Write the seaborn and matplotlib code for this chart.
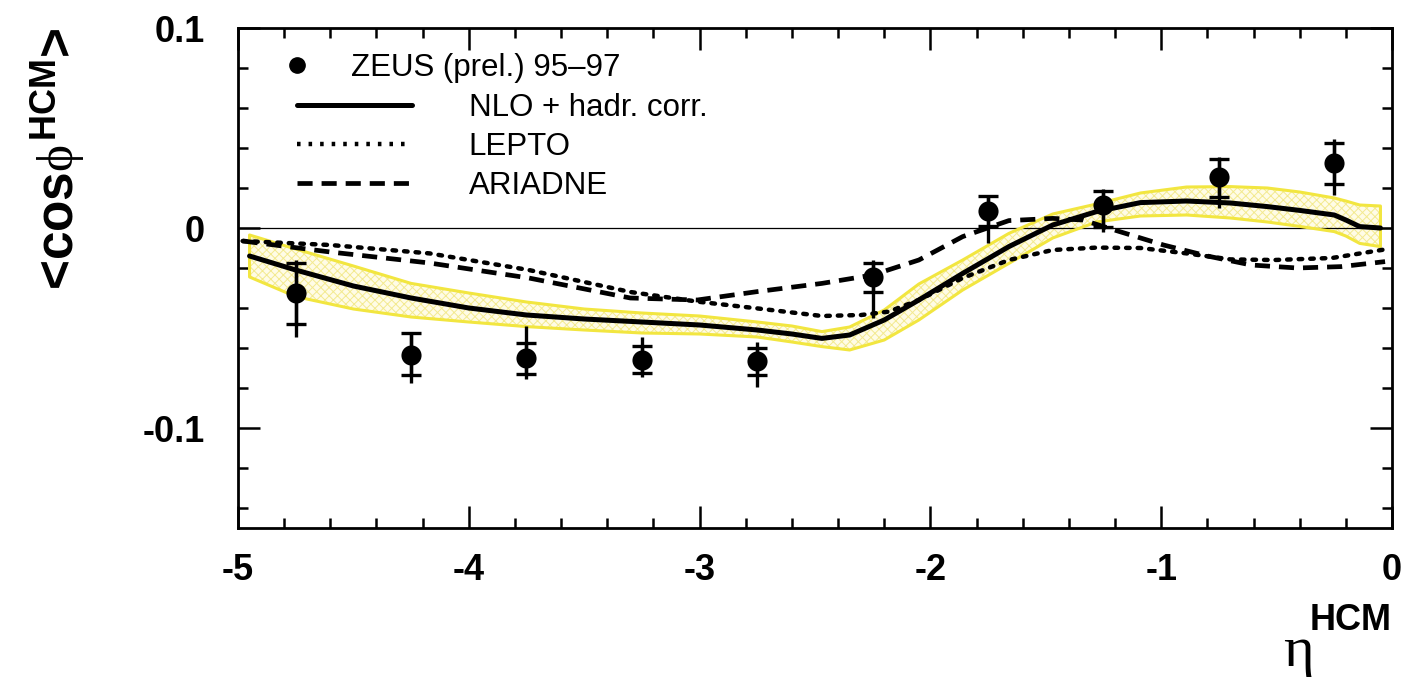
import matplotlib
matplotlib.use("Agg")
import matplotlib.pyplot as plt
from matplotlib.lines import Line2D
import numpy as np
import pandas as pd
import seaborn as sns

# ZEUS (prel.) 95-97 measurement
eta_pts = [-4.75, -4.25, -3.75, -3.25, -2.75, -2.25, -1.75, -1.25, -0.75, -0.25]
cos_pts = [-0.0325, -0.0635, -0.065, -0.066, -0.0665, -0.0245, 0.0085, 0.0115, 0.0255, 0.0325]
stat_up = [0.015, 0.011, 0.0075, 0.007, 0.0065, 0.007, 0.0075, 0.007, 0.009, 0.010]
stat_dn = [0.0155, 0.010, 0.008, 0.0065, 0.007, 0.0075, 0.0075, 0.011, 0.010, 0.0105]
tot_up = [0.0165, 0.011, 0.016, 0.0115, 0.0095, 0.0085, 0.0075, 0.008, 0.010, 0.012]
tot_dn = [0.022, 0.014, 0.0105, 0.0085, 0.013, 0.0205, 0.016, 0.0135, 0.0155, 0.016]

# NLO + hadronisation corrections, with its uncertainty band
eta_nlo = [-4.95, -4.75, -4.5, -4.25, -4.0, -3.75, -3.5, -3.25, -3.0, -2.75, -2.6, -2.47,
           -2.35, -2.2, -2.05, -1.86, -1.66, -1.47, -1.28, -1.09, -0.89, -0.70, -0.54,
           -0.40, -0.25, -0.20, -0.14, -0.05]
cos_nlo = [-0.014, -0.021, -0.029, -0.035, -0.040, -0.0435, -0.0455, -0.047, -0.0485, -0.051,
           -0.053, -0.0552, -0.0535, -0.046, -0.036, -0.0227, -0.0093, 0.0015, 0.0082, 0.0127,
           0.0135, 0.0125, 0.0107, 0.0088, 0.0065, 0.004, 0.0007, 0.0]
nlo_hi = [-0.0035, -0.0105, -0.019, -0.0277, -0.0325, -0.037, -0.0405, -0.0425, -0.044, -0.047,
          -0.049, -0.0518, -0.0495, -0.041, -0.028, -0.016, -0.0027, 0.007, 0.012, 0.0175,
          0.0205, 0.0207, 0.020, 0.018, 0.015, 0.0135, 0.0115, 0.011]
nlo_lo = [-0.0245, -0.0343, -0.0405, -0.0445, -0.047, -0.0493, -0.051, -0.0525, -0.053, -0.0545,
          -0.057, -0.0593, -0.061, -0.056, -0.046, -0.031, -0.0177, -0.005, 0.003, 0.006,
          0.0065, 0.005, 0.003, 0.0008, -0.0018, -0.004, -0.0077, -0.0093]

# LEPTO prediction
eta_lepto = [-4.98, -4.6, -4.17, -3.74, -3.30, -3.01, -2.75, -2.47, -2.30, -2.18, -2.05,
             -1.86, -1.66, -1.47, -1.28, -1.09, -0.89, -0.70, -0.51, -0.26, -0.03]
cos_lepto = [-0.0065, -0.0085, -0.0127, -0.021, -0.032, -0.0368, -0.0402, -0.044, -0.0435,
             -0.0418, -0.036, -0.025, -0.016, -0.011, -0.0098, -0.010, -0.0127, -0.0157,
             -0.016, -0.015, -0.0107]

# ARIADNE prediction
eta_ariadne = [-4.98, -4.6, -4.17, -3.74, -3.30, -3.01, -2.75, -2.47, -2.25, -2.05, -1.86,
               -1.66, -1.47, -1.34, -1.18, -0.99, -0.80, -0.61, -0.41, -0.22, -0.03]
cos_ariadne = [-0.0065, -0.012, -0.0175, -0.025, -0.035, -0.036, -0.0318, -0.0277, -0.0235,
               -0.016, -0.0043, 0.0037, 0.0048, 0.004, -0.0018, -0.0085, -0.014, -0.0185,
               -0.020, -0.0193, -0.0168]

x_ticks = [-5, -4, -3, -2, -1, 0]
y_ticks = [-0.1, 0, 0.1]
y_tick_labels = ["-0.1", "0", "0.1"]

sns.set_style("ticks")
plt.rcParams["font.family"] = ["Liberation Sans", "DejaVu Sans"]
plt.rcParams["text.color"] = "black"
plt.rcParams["axes.labelcolor"] = "black"
plt.rcParams["axes.unicode_minus"] = False
plt.rcParams["mathtext.fontset"] = "custom"
plt.rcParams["mathtext.rm"] = "Liberation Sans:bold"
plt.rcParams["mathtext.bf"] = "Liberation Sans:bold"
plt.rcParams["mathtext.it"] = "Liberation Serif"
plt.rcParams["hatch.linewidth"] = 0.7

fig = plt.figure(figsize=(14.09, 6.77), dpi=100)
ax = fig.add_axes([238 / 1409, 149 / 677, 1154 / 1409, 500 / 677])

# uncertainty band of the NLO calculation
ax.fill_between(eta_nlo, nlo_lo, nlo_hi, facecolor="#fffce6", edgecolor="#f3ea90",
                hatch="xxxx", linewidth=0, zorder=1)
ax.fill_between(eta_nlo, nlo_lo, nlo_hi, facecolor="none", edgecolor="#f2e640",
                linewidth=2.2, zorder=1.5)

ax.axhline(0, color="black", lw=0.9, zorder=1.2)

curves = pd.concat([
    pd.DataFrame({"eta": eta_nlo, "cos": cos_nlo, "model": "NLO + hadr. corr."}),
    pd.DataFrame({"eta": eta_lepto, "cos": cos_lepto, "model": "LEPTO"}),
    pd.DataFrame({"eta": eta_ariadne, "cos": cos_ariadne, "model": "ARIADNE"}),
])
styles = {
    "NLO + hadr. corr.": dict(lw=3.6, ls="-"),
    "LEPTO": dict(lw=3.2, ls=(0, (0.8, 1.8))),
    "ARIADNE": dict(lw=3.4, ls=(0, (3.2, 1.9))),
}
for name, sub in curves.groupby("model", sort=False):
    sns.lineplot(data=sub, x="eta", y="cos", ax=ax, color="black", sort=False,
                 estimator=None, lw=styles[name]["lw"], zorder=3)
    ax.lines[-1].set_linestyle(styles[name]["ls"])
    if name == "LEPTO":
        ax.lines[-1].set_dash_capstyle("round")

# data: total error as bare line, statistical error marked with ticks
ax.errorbar(eta_pts, cos_pts, yerr=[tot_dn, tot_up], fmt="none", ecolor="black",
            elinewidth=2.4, capsize=0, zorder=4)
ax.errorbar(eta_pts, cos_pts, yerr=[stat_dn, stat_up], fmt="none", ecolor="black",
            elinewidth=2.4, capsize=7.5, capthick=2.4, zorder=4)
sns.scatterplot(x=eta_pts, y=cos_pts, ax=ax, color="black", s=210, edgecolor="black",
                linewidth=0, zorder=5)

ax.set_xlim(-5, 0)
ax.set_ylim(-0.15, 0.1)
ax.set_xticks(x_ticks)
ax.set_xticklabels([str(t) for t in x_ticks])
ax.set_yticks(y_ticks)
ax.set_yticklabels(y_tick_labels)
ax.set_xticks(np.arange(-5, 0.001, 0.2), minor=True)
ax.set_yticks(np.arange(-0.14, 0.1, 0.02), minor=True)
ax.tick_params(which="both", direction="in", top=True, right=True, width=1.8,
               colors="black")
ax.tick_params(which="major", length=16)
ax.tick_params(which="minor", length=7.5)
ax.tick_params(axis="x", which="major", pad=18)
ax.tick_params(axis="y", which="major", pad=24)
for lab in ax.get_xticklabels() + ax.get_yticklabels():
    lab.set_fontsize(26)
    lab.set_fontweight("bold")
    lab.set_color("black")
for sp in ax.spines.values():
    sp.set_linewidth(2.0)
    sp.set_color("black")

ax.set_xlabel("")
ax.set_ylabel(r"<cos$\phi^{\mathrm{HCM}}$>", fontsize=37, fontweight="bold", loc="top",
              labelpad=40, color="black")
ax.text(0.931, -0.275, r"$\eta$", transform=ax.transAxes, fontsize=42, ha="right",
        va="baseline", color="black")
ax.text(1.0, -0.204, "HCM", transform=ax.transAxes, fontsize=26, fontweight="bold",
        ha="right", va="baseline", color="black")

# legend
h_data = [Line2D([], [], ls="none", marker="o", color="black", markersize=11)]
leg1 = ax.legend(h_data, ["ZEUS (prel.) 95\u201397"], loc="upper left",
                 bbox_to_anchor=(0.038, 0.95), frameon=False, fontsize=22.5,
                 handlelength=1.0, handletextpad=1.2, borderpad=0, borderaxespad=0,
                 labelcolor="black")
ax.add_artist(leg1)
h_lines = [Line2D([], [], color="black", lw=styles[n]["lw"], ls=styles[n]["ls"])
           for n in ["NLO + hadr. corr.", "LEPTO", "ARIADNE"]]
ax.legend(h_lines, ["NLO + hadr. corr.", "LEPTO", "ARIADNE"], loc="upper left",
          bbox_to_anchor=(0.051, 0.87), frameon=False, fontsize=22.5, handlelength=3.7,
          handletextpad=1.8, labelspacing=0.28, borderpad=0, borderaxespad=0,
          labelcolor="black")

fig.savefig("out.png", dpi=100)
